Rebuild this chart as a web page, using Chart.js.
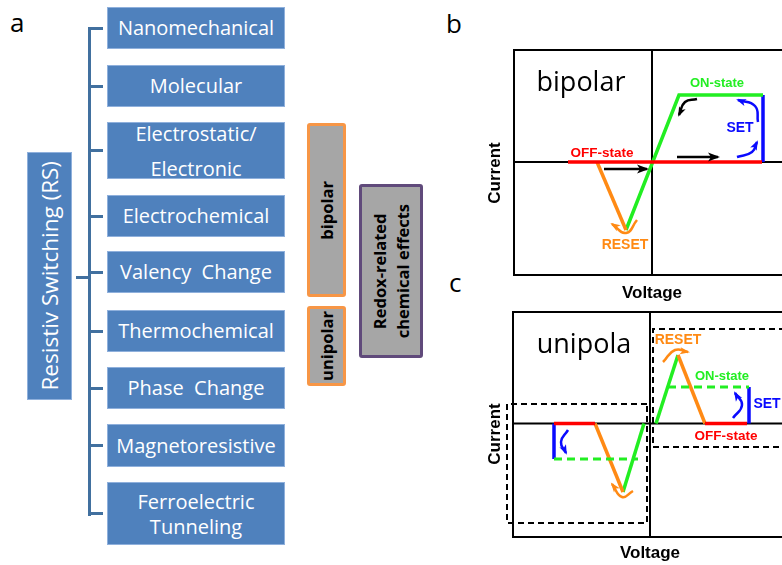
<!DOCTYPE html>
<html>
<head>
<meta charset="utf-8">
<script src="https://cdn.jsdelivr.net/npm/chart.js@4.4.1/dist/chart.umd.min.js"></script>
<style>
  html, body { margin: 0; padding: 0; background: #fff; }
  body { position: relative; width: 782px; height: 565px; overflow: hidden; font-family: "Open Sans", sans-serif; }
  .letter { position: absolute; font-size: 26px; line-height: 26px; color: #000; }
  .box { position: absolute; left: 107px; width: 178px; box-sizing: border-box; background: #4f81bd; border: 1px solid #8fb0dc;
         color: #fff; font-size: 20px; display: flex; align-items: center; justify-content: center; text-align: center; white-space: pre; }
  .line { position: absolute; background: #41709f; }
  .vbox { position: absolute; box-sizing: border-box; background: #a6a6a6; border-radius: 3px; display: flex;
          align-items: center; justify-content: center; font-weight: 700; font-size: 16.5px; color: #000; }
  .vtext { writing-mode: vertical-rl; transform: rotate(180deg); text-align: center; white-space: nowrap; }
  .plot { position: absolute; }
</style>
</head>
<body>
<div class="letter" style="left:10px;top:9px">a</div>
<div class="letter" style="left:446px;top:10px">b</div>
<div class="letter" style="left:449px;top:269px">c</div>

<div id="tree"></div>

<div class="plot" style="left:440px;top:0px"><canvas id="chartB" width="350" height="305"></canvas></div>
<div class="plot" style="left:440px;top:280px"><canvas id="chartC" width="350" height="285"></canvas></div>

<script>
// ---- panel a: classification tree ----
const mechanisms = ['Nanomechanical', 'Molecular', 'Electrostatic/\nElectronic', 'Electrochemical', 'Valency  Change',
  'Thermochemical', 'Phase  Change', 'Magnetoresistive', 'Ferroelectric\nTunneling'];
const boxRows = [[7, 42], [65, 42], [122, 57], [195, 42], [251, 42], [310, 42], [367, 42], [424, 43], [482, 63]];
const lineSpacing = [24, 24, 35, 24, 24, 24, 24, 24, 25];

function buildTree() {
  const tree = document.getElementById('tree');
  const add = (cls, style, html) => {
    const d = document.createElement('div');
    d.className = cls;
    d.setAttribute('style', style);
    if (html) d.innerHTML = html;
    tree.appendChild(d);
    return d;
  };

  add('vbox', 'left:27px;top:152px;width:45px;height:248px;background:#4f81bd;border:1px solid #8fb0dc;border-radius:0;font-weight:400;font-size:22.5px;color:#fff',
    '<div class="vtext">Resistiv Switching (RS)</div>');
  add('line', 'left:76px;top:275.5px;width:14px;height:3px');
  add('line', 'left:88px;top:26.5px;width:3px;height:489px');

  mechanisms.forEach((name, i) => {
    const [top, h] = boxRows[i];
    add('line', `left:89px;top:${top + h / 2 - 1.5}px;width:14px;height:3px`);
    const b = add('box', `top:${top}px;height:${h}px;line-height:${lineSpacing[i]}px`);
    b.textContent = name;
  });

  add('vbox', 'left:307px;top:123px;width:39px;height:174px;border:3px solid #f79646', '<div class="vtext">bipolar</div>');
  add('vbox', 'left:307px;top:306px;width:39px;height:80px;border:3px solid #f79646', '<div class="vtext">unipolar</div>');
  add('vbox', 'left:359px;top:184px;width:64px;height:174px;border:3px solid #604a7b;line-height:23px',
    '<div class="vtext">Redox-related<br>chemical effects</div>');
}
buildTree();

// ---- panels b and c: schematic I-V curves (voltage, current), arbitrary units ----
const GREEN = '#22ee22', RED = '#ff0000', ORANGE = '#ff8a14', BLUE = '#0a0aff', BLACK = '#000';

// b: bipolar
const bOffState = [[-0.84, 0], [1.10, 0]];
const bReset = [[-0.55, 0], [-0.26, -0.68]];
const bOnState = [[-0.26, -0.68], [0.27, 0.67], [1.11, 0.67]];
const bSet = [[1.11, 0], [1.11, 0.67]];
const bBlackArrows = [[[-0.48, -0.07], [-0.05, -0.07]], [[0.25, 0.05], [0.66, 0.05]]];
const bBlackCurve = [[0.45, 0.63], [0.33, 0.60], [0.27, 0.47]];
const bSetCurves = [[[1.06, 0.40], [1.03, 0.56], [0.86, 0.62]], [[0.85, 0.05], [1.00, 0.10], [1.05, 0.20]]];
const bResetCurve = [[-0.15, -0.58], [-0.26, -0.71], [-0.40, -0.62]];
const bLabels = [
  ['bipolar', -0.71, 0.71, 'title'], ['ON-state', 0.65, 0.79, 'on'], ['SET', 0.88, 0.34, 'set'],
  ['OFF-state', -0.50, 0.09, 'off'], ['RESET', -0.27, -0.83, 'reset'],
  ['Current', -1.57, -0.11, 'yaxis'], ['Voltage', 0.0, -1.31, 'xaxis']
];

// c: unipolar
const cRightRise = [[0.06, 0], [0.28, 0.685]];
const cRightReset = [[0.28, 0.685], [0.55, 0]];
const cRightOff = [[0.55, 0], [0.97, 0]];
const cRightSet = [[0.99, 0], [0.99, 0.365]];
const cRightOn = [[0.18, 0.365], [0.99, 0.365]];
const cLeftOff = [[-0.96, 0], [-0.55, 0]];
const cLeftReset = [[-0.55, 0], [-0.27, -0.685]];
const cLeftRise = [[-0.27, -0.685], [-0.06, 0]];
const cLeftSet = [[-0.96, 0], [-0.96, -0.355]];
const cLeftOn = [[-0.96, -0.355], [-0.12, -0.355]];
const cBoxRight = [[1.45, 0.945], [0.03, 0.945], [0.03, -0.235], [1.45, -0.235]];
const cBoxLeft = [[-0.03, 0.195], [-1.43, 0.195], [-1.43, -0.995], [-0.03, -0.995], [-0.03, 0.195]];
const cCurves = [
  { pts: [[0.13, 0.615], [0.25, 0.735], [0.38, 0.715]], color: ORANGE },
  { pts: [[0.83, 0.055], [0.92, 0.185], [0.85, 0.305]], color: BLUE },
  { pts: [[-0.82, -0.065], [-0.89, -0.185], [-0.84, -0.295]], color: BLUE },
  { pts: [[-0.17, -0.675], [-0.28, -0.735], [-0.38, -0.605]], color: ORANGE }
];
const cLabels = [
  ['unipola', -0.66, 0.705, 'title'], ['RESET', 0.28, 0.835, 'reset'], ['ON-state', 0.72, 0.475, 'on'],
  ['SET', 1.17, 0.195, 'set'], ['OFF-state', 0.76, -0.125, 'off'],
  ['Current', -1.55, -0.105, 'yaxis'], ['Voltage', 0.0, -1.295, 'xaxis']
];

const labelStyles = {
  title: { font: '27px "Open Sans"', color: BLACK, baseline: 'alphabetic' },
  on: { font: 'bold 13px "Liberation Sans"', color: GREEN },
  off: { font: 'bold 13.5px "Liberation Sans"', color: RED },
  set: { font: 'bold 14px "Liberation Sans"', color: BLUE },
  reset: { font: 'bold 14px "Liberation Sans"', color: ORANGE },
  xaxis: { font: 'bold 17px "Liberation Sans"', color: BLACK },
  yaxis: { font: 'bold 17px "Liberation Sans"', color: BLACK, rotate: true }
};

function pts(arr) {
  return arr.map(([x, y]) => ({ x, y }));
}

function seg(data, color, extra) {
  return Object.assign({
    data: pts(data),
    borderColor: color,
    backgroundColor: color,
    borderWidth: 3.5,
    pointRadius: 0,
    tension: 0,
    showLine: true,
    fill: false
  }, extra || {});
}

const framePlugin = {
  id: 'frame',
  beforeDatasetsDraw(chart) {
    const { ctx, chartArea: a, scales: { x, y } } = chart;
    const x0 = x.getPixelForValue(0);
    const y0 = y.getPixelForValue(0);
    ctx.save();
    ctx.strokeStyle = BLACK;
    ctx.lineWidth = 2;
    ctx.beginPath();
    ctx.moveTo(a.right + 5, a.top);
    ctx.lineTo(a.left, a.top);
    ctx.lineTo(a.left, a.bottom);
    ctx.lineTo(a.right + 5, a.bottom);
    ctx.moveTo(x0, a.top);
    ctx.lineTo(x0, a.bottom);
    ctx.moveTo(a.left, y0);
    ctx.lineTo(a.right, y0);
    ctx.stroke();
    ctx.restore();
  }
};

const arrowPlugin = {
  id: 'arrowHeads',
  afterDatasetsDraw(chart) {
    const ctx = chart.ctx;
    chart.data.datasets.forEach((ds, i) => {
      if (!ds.arrowHead) return;
      const els = chart.getDatasetMeta(i).data;
      const last = els[els.length - 1];
      let px = last.cp1x, py = last.cp1y;
      if (px === undefined || Math.hypot(last.x - px, last.y - py) < 0.5) {
        px = els[els.length - 2].x;
        py = els[els.length - 2].y;
      }
      const ang = Math.atan2(last.y - py, last.x - px);
      const len = ds.arrowSize || 9, half = len * 0.45;
      ctx.save();
      ctx.translate(last.x, last.y);
      ctx.rotate(ang);
      ctx.fillStyle = ds.borderColor;
      ctx.beginPath();
      ctx.moveTo(2, 0);
      ctx.lineTo(-len, -half);
      ctx.lineTo(-len * 0.7, 0);
      ctx.lineTo(-len, half);
      ctx.closePath();
      ctx.fill();
      ctx.restore();
    });
  }
};

const labelPlugin = {
  id: 'textLabels',
  afterDatasetsDraw(chart) {
    const { ctx, scales: { x, y } } = chart;
    (chart.options.plugins.textLabels.items || []).forEach(([text, vx, vy, key]) => {
      const st = labelStyles[key];
      ctx.save();
      ctx.translate(x.getPixelForValue(vx), y.getPixelForValue(vy));
      if (st.rotate) ctx.rotate(-Math.PI / 2);
      ctx.font = st.font;
      ctx.fillStyle = st.color;
      ctx.textAlign = 'center';
      ctx.textBaseline = st.baseline || 'middle';
      ctx.fillText(text, 0, 0);
      ctx.restore();
    });
  }
};

function makeChart(id, datasets, labels, xr, yr, padding) {
  return new Chart(document.getElementById(id), {
    type: 'scatter',
    data: { datasets },
    options: {
      responsive: false,
      animation: false,
      layout: { padding },
      plugins: { legend: { display: false }, tooltip: { enabled: false }, textLabels: { items: labels } },
      scales: {
        x: { type: 'linear', min: xr[0], max: xr[1], display: false },
        y: { type: 'linear', min: yr[0], max: yr[1], display: false }
      }
    },
    plugins: [framePlugin, arrowPlugin, labelPlugin]
  });
}

const curveOpts = { borderWidth: 2.5, tension: 0.5, arrowHead: true, arrowSize: 8 };
const dashBox = { borderWidth: 2, borderDash: [6, 4], clip: false };

makeChart('chartB', [
  seg(bOffState, RED),
  seg(bReset, ORANGE),
  seg(bOnState, GREEN),
  seg(bSet, BLUE),
  ...bBlackArrows.map(a => seg(a, BLACK, { borderWidth: 2.5, arrowHead: true, arrowSize: 10 })),
  seg(bBlackCurve, BLACK, curveOpts),
  ...bSetCurves.map(c => seg(c, BLUE, curveOpts)),
  seg(bResetCurve, ORANGE, curveOpts)
], bLabels, [-1.38, 1.38], [-1.13, 1.12], { left: 74, top: 50, right: 0, bottom: 30 });

makeChart('chartC', [
  seg(cBoxRight, BLACK, dashBox),
  seg(cBoxLeft, BLACK, dashBox),
  seg(cRightOn, GREEN, { borderWidth: 3, borderDash: [8, 5] }),
  seg(cLeftOn, GREEN, { borderWidth: 3, borderDash: [8, 5] }),
  seg(cRightOff, RED),
  seg(cLeftOff, RED),
  seg(cRightReset, ORANGE),
  seg(cLeftReset, ORANGE),
  seg(cRightRise, GREEN),
  seg(cLeftRise, GREEN),
  seg(cRightSet, BLUE),
  seg(cLeftSet, BLUE),
  ...cCurves.map(c => seg(c.pts, c.color, curveOpts))
], cLabels, [-1.37, 1.40], [-1.135, 1.115], { left: 73, top: 32, right: 0, bottom: 28 });
</script>
</body>
</html>
